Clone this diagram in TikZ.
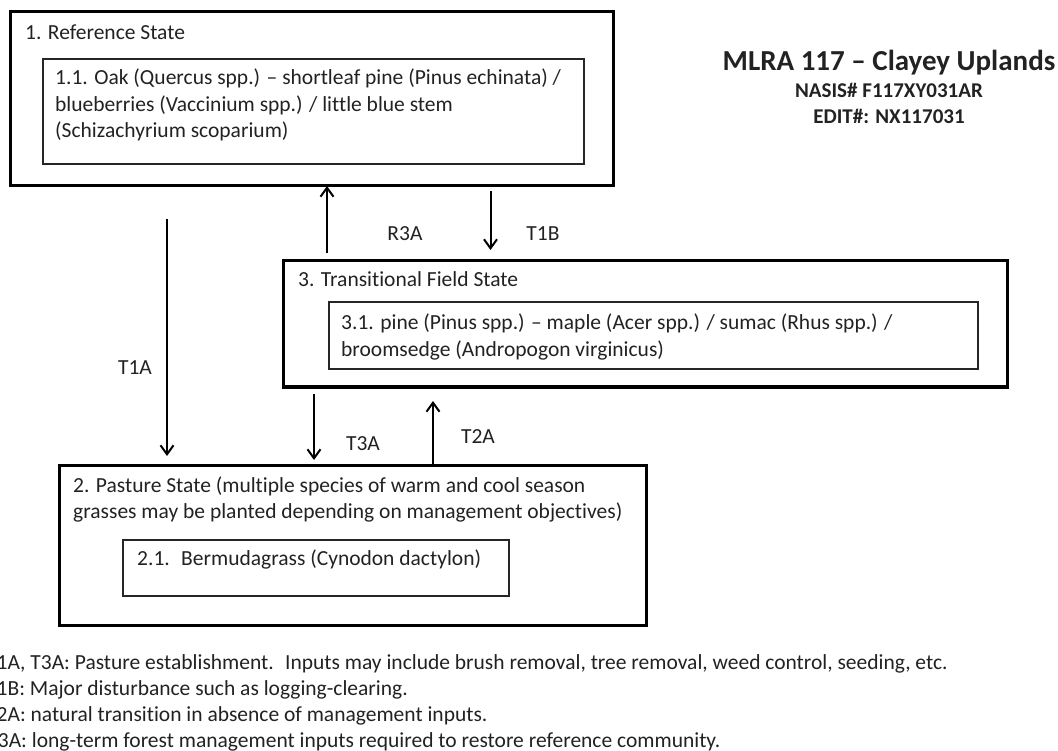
\documentclass[tikz,border=0pt]{standalone}
\usepackage{fontspec}
\setmainfont{Carlito}[Ligatures={TeX,NoCommon}]
\usetikzlibrary{arrows.meta}
\definecolor{ink}{HTML}{222222}
\begin{document}
\begin{tikzpicture}[x=1pt,y=-1pt,
  outerbox/.style={draw=black, line width=3pt, anchor=north west, inner sep=0pt, outer sep=0pt},
  innerbox/.style={draw=black!85, line width=2pt, anchor=north west, inner sep=0pt, outer sep=0pt},
  txt/.style={font=\fontsize{21.5}{26.5}\selectfont, text=ink, inner sep=0pt, anchor=base west},
  lbl/.style={font=\fontsize{21.5}{26.5}\selectfont, text=ink, inner sep=0pt, anchor=base},
  ttl/.style={font=\bfseries\fontsize{21}{24}\selectfont, text=ink, inner sep=0pt, anchor=base},
  arr/.style={draw=black, line width=2pt, -{Straight Barb[length=9pt,width=13pt]}}]
\useasboundingbox (0,0) rectangle (1058,751);
% boxes
\node[outerbox, minimum width=603pt, minimum height=174pt] (b1) at (10,12) {};
\node[innerbox, minimum width=541.5pt, minimum height=105pt] (i1) at (42.5,59) {};
\node[outerbox, minimum width=724pt, minimum height=126pt] (b3) at (283,261) {};
\node[innerbox, minimum width=649pt, minimum height=67pt] (i3) at (329,302) {};
\node[outerbox, minimum width=587pt, minimum height=160pt] (b2) at (59,465) {};
\node[innerbox, minimum width=386pt, minimum height=56pt] (i2) at (123,540) {};
% box texts
\node[txt] (t1) at (25,40) {1. Reference State};
\node[txt] (t11a) at (55,85) {1.1. Oak (Quercus spp.) -- shortleaf pine (Pinus echinata) /};
\node[txt] (t11b) at (55,111.5) {blueberries (Vaccinium spp.) / little blue stem};
\node[txt] (t11c) at (55,138) {(Schizachyrium scoparium)};
\node[txt] (t3) at (298,287) {3. Transitional Field State};
\node[txt] (t31a) at (341,330) {3.1. pine (Pinus spp.) -- maple (Acer spp.) / sumac (Rhus spp.) /};
\node[txt] (t31b) at (341,356) {broomsedge (Andropogon virginicus)};
\node[txt] (t2a) at (73,492) {2. Pasture State (multiple species of warm and cool season};
\node[txt] (t2b) at (73,518) {grasses may be planted depending on management objectives)};
\node[txt] (t21) at (137,565) {2.1.~ Bermudagrass (Cynodon dactylon)};
% title
\node[ttl, font=\bfseries\fontsize{29}{32}\selectfont] (title) at (889,71) {MLRA 117 -- Clayey Uplands};
\node[ttl] (nasis) at (889,98) {NASIS\# F117XY031AR};
\node[ttl] (edit) at (889,124) {EDIT\#: NX117031};
% arrow x positions
\coordinate (xa) at (167,0);
\coordinate (xb) at (327,0);
\coordinate (xc) at (490.5,0);
\coordinate (xd) at (314,0);
\coordinate (xe) at (433,0);
\coordinate (sa) at (167,219);
% connectors
\draw[arr, shorten >=9pt] (sa) -- (b2.north -| xa);
\draw[arr, shorten <=8pt] (b3.north -| xb) -- (b1.south -| xb);
\draw[arr, shorten <=5pt, shorten >=11pt] (b1.south -| xc) -- (b3.north -| xc);
\draw[arr, shorten <=7pt, shorten >=5pt] (b3.south -| xd) -- (b2.north -| xd);
\draw[arr, shorten >=14pt] (b2.north -| xe) -- (b3.south -| xe);
% labels
\node[lbl] (lt1a) at (135,374) {T1A};
\node[lbl] (lr3a) at (405,241) {R3A};
\node[lbl] (lt1b) at (543,241) {T1B};
\node[lbl] (lt3a) at (363,450) {T3A};
\node[lbl] (lt2a) at (478,443) {T2A};
% legend (left edge cut off as in the reference)
\node[txt] (g1) at (-14,669) {T1A, T3A: Pasture establishment.~ Inputs may include brush removal, tree removal, weed control, seeding, etc.};
\node[txt] (g2) at (-14,695) {T1B: Major disturbance such as logging-clearing.};
\node[txt] (g3) at (-14,721) {T2A: natural transition in absence of management inputs.};
\node[txt] (g4) at (-14,747) {R3A: long-term forest management inputs required to restore reference community.};
\end{tikzpicture}
\end{document}
